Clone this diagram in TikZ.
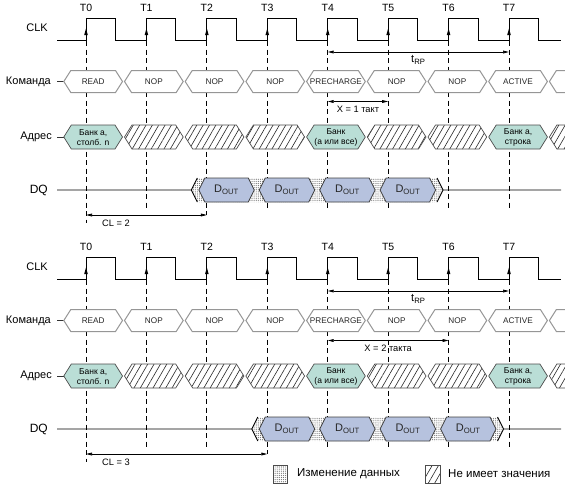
\documentclass[tikz,border=0pt]{standalone}
\usepackage{fontspec}
\setmainfont{Liberation Sans}
\usetikzlibrary{arrows.meta,patterns.meta}

\definecolor{busteal}{RGB}{186,222,214}
\definecolor{busblue}{RGB}{182,194,222}
\definecolor{busgray}{RGB}{150,150,150}

\tikzset{
  wave/.style={line width=0.9pt},
  tick/.style={dash pattern=on 5pt off 3.5pt,line width=0.85pt},
  dimarr/.style={line width=0.7pt,{Triangle[length=6pt,width=2.8pt]}-{Triangle[length=6pt,width=2.8pt]}},
  cmdbox/.style={draw=busgray,fill=white,line width=1pt},
  addrbox/.style={draw=black!70,fill=busteal,line width=0.7pt},
  hatchbox/.style={draw=black!70,line width=0.7pt,preaction={fill=white},
    pattern={Lines[angle=60,distance=5.5pt,line width=0.6pt]},pattern color=black!85},
  databox/.style={draw=black!75,fill=busblue,line width=0.8pt},
  dotfill/.style={preaction={fill=white},pattern={Dots[radius=0.6pt,distance=2.1pt]},pattern color=black!55},
  lbl/.style={font=\fontsize{11}{13}\selectfont,inner sep=0pt},
  tlbl/.style={font=\fontsize{10.5}{12}\selectfont,inner sep=0pt},
  boxtxt/.style={font=\fontsize{8.2}{10}\selectfont,align=center,inner sep=0pt,text=black!85},
  adrtxt/.style={font=\fontsize{8.5}{10.5}\selectfont,align=center,inner sep=0pt},
  doutxt/.style={font=\fontsize{11}{12}\selectfont,inner sep=0pt,text=black!85},
  dimtxt/.style={font=\fontsize{9.3}{11}\selectfont,inner sep=0pt},
}

\begin{document}
\begin{tikzpicture}[x=1pt,y=1pt,yscale=-1]
\clip (0,0) rectangle (565,488);

\foreach \d/\dy/\first/\xlen/\lat/\xtxt in {0/0/2/1/2/{X = 1 такт},1/239/3/2/3/{X = 2 такта}}{
\begin{scope}[shift={(0,\dy)}]
  % clock edges
  \foreach \i in {0,...,7}
    \coordinate (T\d\i) at ({86+60.43*\i},0);

  % Text Node
  \node[lbl,anchor=east] (clk\d) at (48,28) {CLK};
  \node[lbl,anchor=east] (cmd\d) at (51,81.5) {Команда};
  \node[lbl,anchor=east] (adr\d) at (52,137) {Адрес};
  \node[lbl,anchor=east,font=\fontsize{12}{14}\selectfont] (dq\d) at (48,190) {DQ};
  \foreach \i in {0,...,7}
    \node[tlbl,anchor=base] (tl\d\i) at ({86+60.43*\i},11) {T\i};

  % guide lines
  \foreach \i in {0,...,7}{
    \pgfmathsetmacro\ybot{\i==0 ? 223 : (\i==\first ? 215 : 208)}
    \draw[tick] ({86+60.43*\i},41) -- ({86+60.43*\i},\ybot);
  }

  % CLK
  \draw[wave] (57,40) foreach \i in {0,...,7}{ -- ({86+60.43*\i},40) -- ++(0,-22) -- ++(29.5,0) -- ++(0,22) } -- (561,40);
  \foreach \i in {0,...,7}
    \fill ({86+60.43*\i},28.5) -- ++(1.8,6.5) -- ++(-3.6,0) -- cycle;

  % command bus
  \draw[wave,black!80] (57,81.5) -- (63.8,81.5);
  \foreach \i/\txt in {0/READ,1/NOP,2/NOP,3/NOP,4/PRECHARGE,5/NOP,6/NOP,7/ACTIVE}{
    \pgfmathsetmacro\ca{62.8+60.7*\i}
    \pgfmathsetmacro\cb{\ca+60.7}
    \draw[cmdbox] (\ca+1,81.5) -- (\ca+8,70.5) -- (\cb-8,70.5) -- (\cb-1,81.5) -- (\cb-8,92.5) -- (\ca+8,92.5) -- cycle;
    \node[boxtxt] (cb\d\i) at ({(\ca+\cb)/2},81.5) {\txt};
  }
  \draw[cmdbox] (549.4,81.5) -- (556.4,70.5) -- (580,70.5) (549.4,81.5) -- (556.4,92.5) -- (580,92.5);

  % address bus
  \draw[wave,black!80] (57,137) -- (63.8,137);
  \foreach \i/\kind in {0/addrbox,1/hatchbox,2/hatchbox,3/hatchbox,4/addrbox,5/hatchbox,6/hatchbox,7/addrbox,8/hatchbox}{
    \pgfmathsetmacro\ca{62.8+60.7*\i}
    \pgfmathsetmacro\cb{\ca+60.7}
    \draw[\kind] (\ca+1,137) -- (\ca+8.5,125) -- (\cb-8.5,125) -- (\cb-1,137) -- (\cb-8.5,149) -- (\ca+8.5,149) -- cycle;
  }
  \node[adrtxt] (ab\d0) at (93.15,137.5) {Банк а,\\столб. n};
  \node[adrtxt] (ab\d4) at (335.95,137.5) {Банк\\(а или все)};
  \node[adrtxt] (ab\d7) at (518.05,137.5) {Банк а,\\строка};

  % DQ bus
  \pgfmathsetmacro\dqs{86+60.43*\first-10.5}
  \pgfmathsetmacro\dqe{\dqs+4*60.43}
  \path[dotfill] (\dqs-5,190) -- (\dqs+1,178) -- (\dqe-1,178) -- (\dqe+5,190) -- (\dqe-1,202) -- (\dqs+1,202) -- cycle;
  \draw[wave] (57,190) -- (\dqs-5,190) -- (\dqs+1,178) (\dqs-5,190) -- (\dqs+1,202);
  \draw[wave] (561,190) -- (\dqe+5,190) -- (\dqe-1,178) (\dqe+5,190) -- (\dqe-1,202);
  \foreach \k in {0,...,3}{
    \pgfmathsetmacro\ka{\dqs+60.43*\k}
    \pgfmathsetmacro\kb{\ka+60.43}
    \draw[databox] (\ka+2.5,190) -- (\ka+8.5,178) -- (\kb-8.5,178) -- (\kb-2.5,190) -- (\kb-8.5,202) -- (\ka+8.5,202) -- cycle;
    \node[doutxt] (do\d\k) at ({(\ka+\kb)/2},189.5) {D\textsubscript{OUT}};
  }

  % timing arrows
  \coordinate (rp\d) at (0,52);
  \coordinate (xv\d) at (0,101.5);
  \coordinate (cv\d) at (0,215);
  \pgfmathtruncatemacro\xend{4+\xlen}
  \draw[dimarr] (T\d4 |- rp\d) -- (T\d7 |- rp\d) node[dimtxt,font=\fontsize{11}{12}\selectfont,midway,below=3.5pt] (trp\d) {t\textsubscript{RP}};
  \draw[dimarr] (T\d4 |- xv\d) -- (T\d\xend |- xv\d) node[dimtxt,midway,below=4pt] (xt\d) {\xtxt};
  \draw[dimarr] (T\d0 |- cv\d) -- (T\d\first |- cv\d);
  \node[dimtxt,anchor=west] (cl\d) at (102,223) {CL = \lat};
\end{scope}
}

% legend
\path[dotfill,draw=black!70,line width=0.7pt] (273,465) rectangle (287,483);
\node[lbl,anchor=west,font=\fontsize{11.5}{13}\selectfont] (lgchg) at (297,474) {Изменение данных};
\path[hatchbox] (425,465) rectangle (440,483);
\node[lbl,anchor=west,font=\fontsize{11.5}{13}\selectfont] (lgdc) at (448,474) {Не имеет значения};
\end{tikzpicture}
\end{document}
